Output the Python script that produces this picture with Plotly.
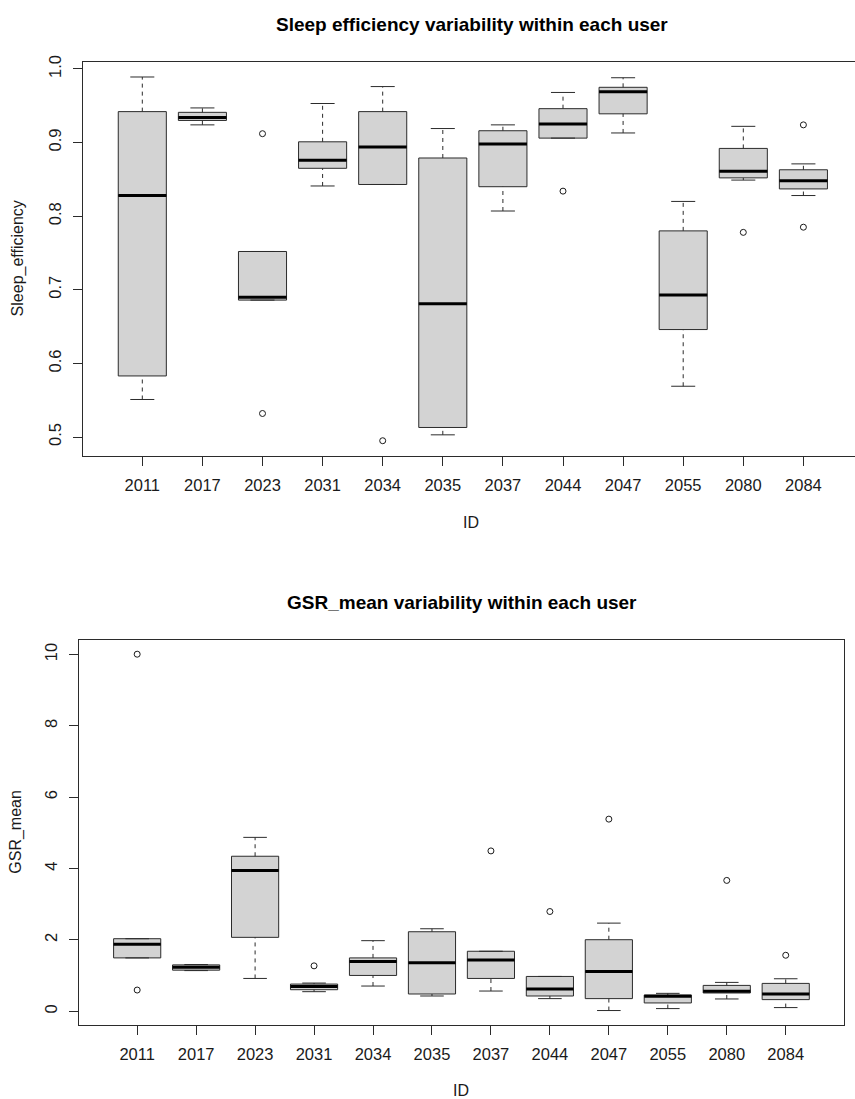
import plotly.graph_objects as go

W, H = 855, 1099

ids = ["2011", "2017", "2023", "2031", "2034", "2035", "2037", "2044", "2047", "2055", "2080", "2084"]

# Sleep efficiency: five-number summaries per user
se_low = [0.551, 0.924, 0.686, 0.841, 0.843, 0.503, 0.807, 0.906, 0.913, 0.569, 0.849, 0.828]
se_q1 = [0.583, 0.930, 0.686, 0.865, 0.843, 0.513, 0.840, 0.906, 0.939, 0.646, 0.852, 0.837]
se_med = [0.828, 0.934, 0.690, 0.876, 0.894, 0.681, 0.898, 0.925, 0.969, 0.693, 0.861, 0.848]
se_q3 = [0.942, 0.941, 0.752, 0.901, 0.942, 0.879, 0.916, 0.946, 0.975, 0.780, 0.892, 0.863]
se_high = [0.989, 0.947, 0.752, 0.953, 0.976, 0.919, 0.924, 0.968, 0.988, 0.820, 0.922, 0.871]
se_out_id = ["2023", "2023", "2034", "2044", "2080", "2084", "2084"]
se_out_val = [0.912, 0.532, 0.495, 0.834, 0.778, 0.924, 0.785]
se_ticks = [0.5, 0.6, 0.7, 0.8, 0.9, 1.0]
se_ticktext = ["0.5", "0.6", "0.7", "0.8", "0.9", "1.0"]

# GSR_mean: five-number summaries per user
g_low = [1.496, 1.140, 0.920, 0.549, 0.707, 0.428, 0.567, 0.354, 0.020, 0.075, 0.345, 0.103]
g_q1 = [1.496, 1.152, 2.072, 0.604, 1.004, 0.484, 0.920, 0.428, 0.354, 0.233, 0.512, 0.326]
g_med = [1.877, 1.236, 3.947, 0.697, 1.394, 1.357, 1.440, 0.623, 1.115, 0.419, 0.558, 0.484]
g_q3 = [2.034, 1.300, 4.346, 0.762, 1.496, 2.229, 1.682, 0.976, 2.006, 0.456, 0.725, 0.781]
g_high = [2.034, 1.310, 4.875, 0.790, 1.979, 2.313, 1.682, 0.976, 2.471, 0.502, 0.809, 0.911]
g_out_id = ["2011", "2011", "2031", "2037", "2044", "2047", "2080", "2084"]
g_out_val = [10.01, 0.595, 1.273, 4.495, 2.796, 5.386, 3.668, 1.570]
g_ticks = [0, 2, 4, 6, 8, 10]
g_ticktext = ["0", "2", "4", "6", "8", "10"]

FONT = "Liberation Sans, Arial, sans-serif"
INK = "#1a1a1a"
LINE = "#2b2b2b"
BOXW = 0.8
CAPW = 0.4
pos = list(range(1, len(ids) + 1))
idx = {k: i + 1 for i, k in enumerate(ids)}

fig = go.Figure()


def add_panel(xa, ya, low, q1, med, q3, high, out_id, out_val):
    xr, yr = xa.replace("axis", ""), ya.replace("axis", "")
    # box bodies
    fig.add_trace(go.Box(
        x=pos, q1=q1, median=med, q3=q3, lowerfence=q1, upperfence=q3,
        width=BOXW, whiskerwidth=0, fillcolor="#d3d3d3",
        line=dict(color=LINE, width=1), boxpoints=False,
        xaxis=xr, yaxis=yr, showlegend=False, hoverinfo="skip"))
    # dashed whiskers
    wx, wy = [], []
    for p, a, b, c, d in zip(pos, low, q1, q3, high):
        wx += [p, p, None, p, p, None]
        wy += [a, b, None, c, d, None]
    fig.add_trace(go.Scatter(x=wx, y=wy, mode="lines",
                             line=dict(color=LINE, width=1, dash="4px,4px"),
                             xaxis=xr, yaxis=yr, showlegend=False, hoverinfo="skip"))
    # staples
    cx, cy = [], []
    for p, a, d in zip(pos, low, high):
        cx += [p - CAPW / 2, p + CAPW / 2, None, p - CAPW / 2, p + CAPW / 2, None]
        cy += [a, a, None, d, d, None]
    fig.add_trace(go.Scatter(x=cx, y=cy, mode="lines",
                             line=dict(color=LINE, width=1),
                             xaxis=xr, yaxis=yr, showlegend=False, hoverinfo="skip"))
    # thick medians
    mx, my = [], []
    for p, m in zip(pos, med):
        mx += [p - BOXW / 2, p + BOXW / 2, None]
        my += [m, m, None]
    fig.add_trace(go.Scatter(x=mx, y=my, mode="lines",
                             line=dict(color="#000000", width=3),
                             xaxis=xr, yaxis=yr, showlegend=False, hoverinfo="skip"))
    # outliers
    fig.add_trace(go.Scatter(x=[idx[k] for k in out_id], y=out_val, mode="markers",
                             marker=dict(symbol="circle-open", size=6,
                                         color=INK, line=dict(width=1, color=INK)),
                             xaxis=xr, yaxis=yr, showlegend=False, hoverinfo="skip"))


add_panel("xaxis", "yaxis", se_low, se_q1, se_med, se_q3, se_high, se_out_id, se_out_val)
add_panel("xaxis2", "yaxis2", g_low, g_q1, g_med, g_q3, g_high, g_out_id, g_out_val)


def px_x(v):
    return v / W


def px_y(v):
    return 1 - v / H


tickfont = dict(family=FONT, size=16.5, color=INK)
common_x = dict(tickmode="array", tickvals=pos, ticktext=ids, ticks="outside",
                ticklen=9, tickcolor=LINE, tickwidth=1, showgrid=False, zeroline=False,
                showline=True, linecolor=LINE, linewidth=1, tickfont=tickfont,
                ticklabelstandoff=5)
common_y = dict(tickmode="array", ticks="outside", ticklen=9, tickcolor=LINE,
                tickwidth=1, showgrid=False, zeroline=False, showline=True,
                linecolor=LINE, linewidth=1, tickfont=tickfont, tickangle=-90,
                ticklabelstandoff=6)

# top panel: (1 - 0.02) slot widths left of the first box, clipped on the right
x0_top, step_top = 142.3, 60.1
left_top = x0_top - 0.98 * step_top
right_range_top = 1 + (W - x0_top) / step_top

fig.update_layout(
    width=W, height=H, margin=dict(l=0, r=0, t=0, b=0),
    paper_bgcolor="white", plot_bgcolor="white",
    xaxis=dict(domain=[px_x(left_top), 1.0], range=[0.02, right_range_top],
               anchor="y", mirror=True, **common_x),
    yaxis=dict(domain=[px_y(451.7), px_y(55)], range=[0.4745, 1.00985],
               anchor="x", mirror=False, tickvals=se_ticks, ticktext=se_ticktext,
               **common_y),
    xaxis2=dict(domain=[px_x(79.4), px_x(843.5)], range=[0.02, 12.98],
                anchor="y2", mirror=True, **common_x),
    yaxis2=dict(domain=[px_y(1024.3), px_y(636.7)], range=[-0.379, 10.418],
                anchor="x2", mirror=True, tickvals=g_ticks, ticktext=g_ticktext,
                **common_y),
)

ann_font = dict(family=FONT, size=16, color=INK)
title_font = dict(family=FONT, size=19, color="#000000")
annotations = [
    dict(text="<b>Sleep efficiency variability within each user</b>", x=px_x(471.5), y=px_y(18),
         font=title_font),
    dict(text="<b>GSR_mean variability within each user</b>", x=px_x(462), y=px_y(599),
         font=title_font),
    dict(text="ID", x=px_x(471), y=px_y(519), font=ann_font),
    dict(text="ID", x=px_x(461), y=px_y(1090), font=ann_font),
    dict(text="Sleep_efficiency", x=px_x(18), y=px_y(253), font=ann_font, textangle=-90),
    dict(text="GSR_mean", x=px_x(16), y=px_y(830), font=ann_font, textangle=-90),
]
for a in annotations:
    a.update(xref="paper", yref="paper", showarrow=False, xanchor="center", yanchor="middle")
fig.update_layout(annotations=annotations)

fig.write_html("out.html")
